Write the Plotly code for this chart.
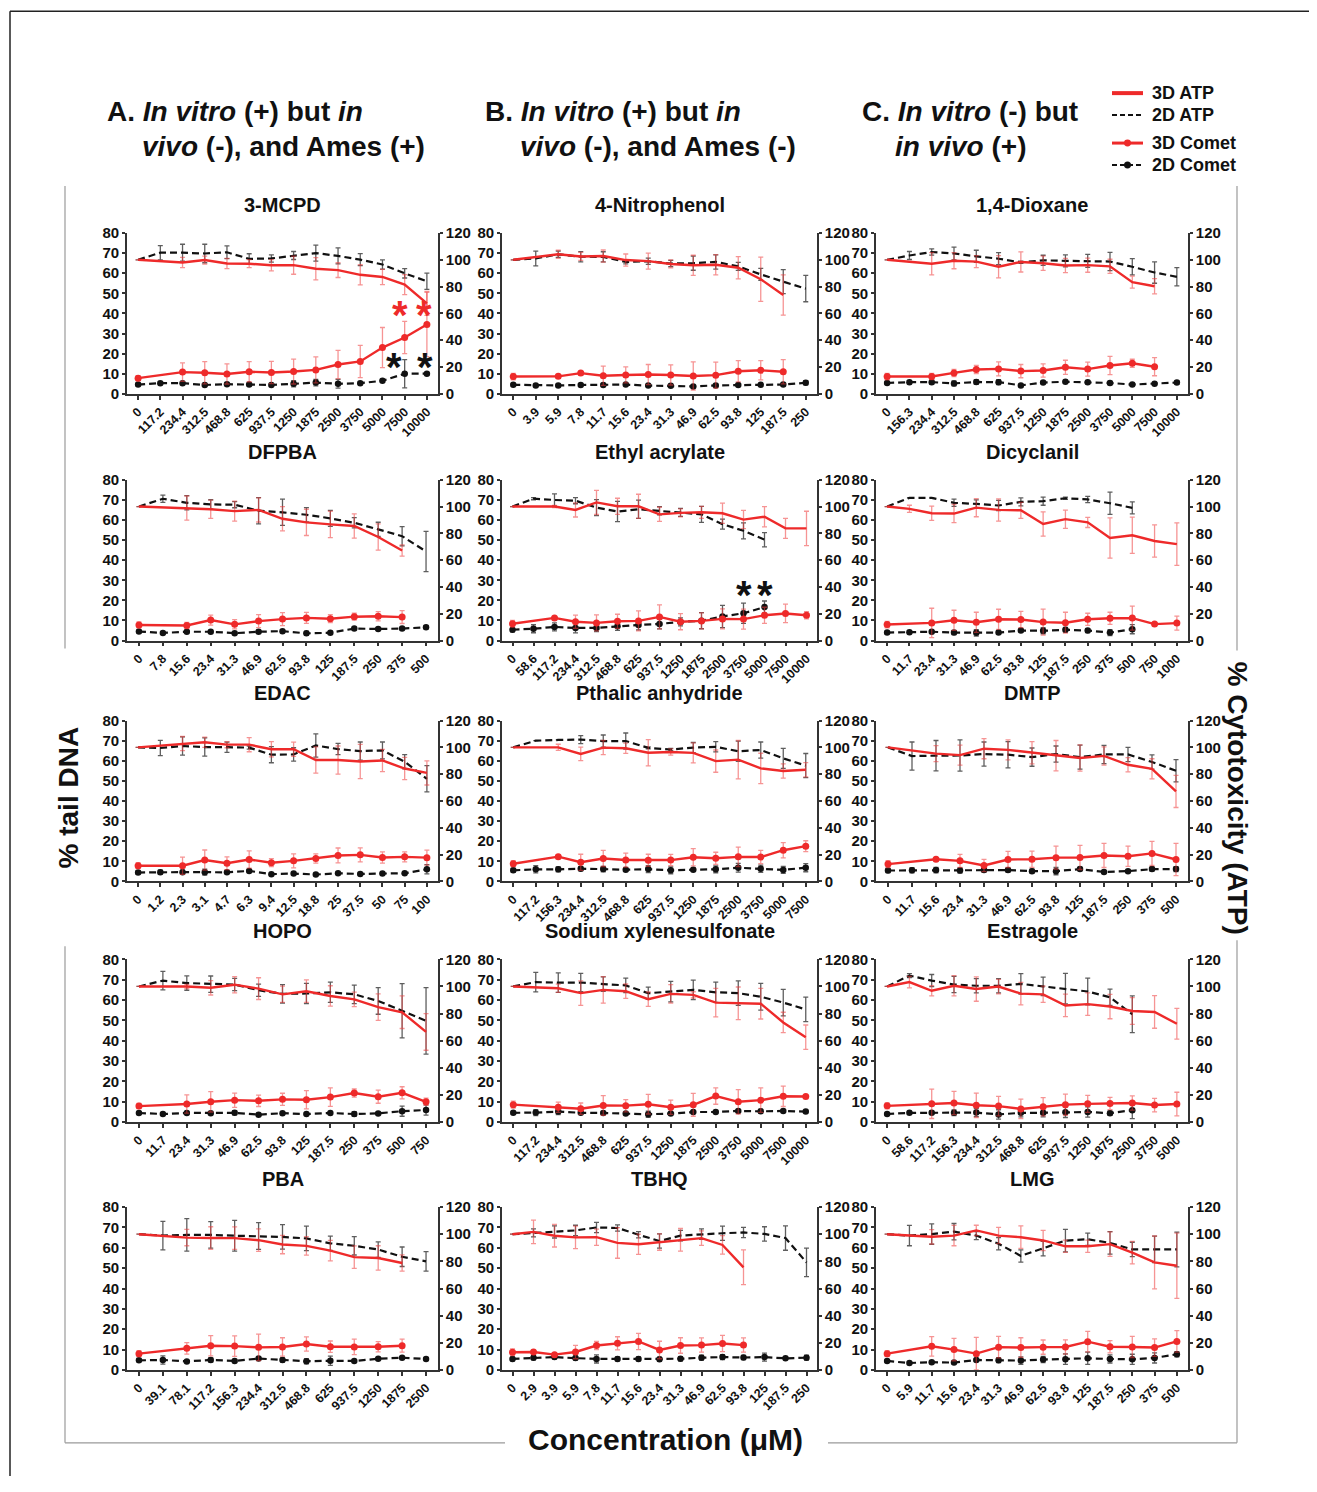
import plotly.graph_objects as go

W, H = 1317, 1492          # size of the reference picture / browser window
PAGE_MARGIN = 8            # default body margin of the html page
FW, FH = W - 2 * PAGE_MARGIN, H - 2 * PAGE_MARGIN
# measured vertical mapping of the photographed page (offset, scale)
V_OFF, V_SCALE = 7.9, 0.9894
FONT = "Liberation Sans, Arial, Helvetica, sans-serif"
RED = "#ee2a2a"
RED_ERR = "rgba(238,60,60,0.55)"
BLK = "#111111"
BLK_ERR = "rgba(40,40,40,0.75)"

# ---------------- data (ATP in %, Comet in % tail DNA) ----------------
# 3-MCPD
mcpd_conc = ["0", "117.2", "234.4", "312.5", "468.8", "625", "937.5", "1250", "1875", "2500", "3750", "5000", "7500", "10000"]
mcpd_atp3d = [100, None, 98.0, 99.8, 97.2, 97.1, 95.9, 96.0, 93.3, 92.3, 88.8, 87.2, 81.5, 67.5]
mcpd_atp3d_err = [0, None, 3.8, 3, 3.8, 3, 4.2, 6.8, 8.3, 5.5, 7.5, 5.7, 7.5, 9]
mcpd_atp2d = [100, 105.3, 105.3, 104.7, 105.6, 100.7, 101.0, 103.2, 105.0, 102.9, 100.1, 96.5, 89.9, 84.0]
mcpd_atp2d_err = [0, 5.3, 6.3, 6.9, 4.8, 3.8, 2.7, 3, 6, 6, 4.5, 3.5, 3.5, 6]
mcpd_com3d = [7.8, None, 10.8, 10.5, 9.9, 11.0, 10.6, 11.1, 11.9, 14.6, 16.1, 23.0, 28.0, 34.5]
mcpd_com3d_err = [1.2, None, 4.6, 5.5, 5, 5, 5.5, 6.2, 6.5, 7, 8, 10, 8, 16]
mcpd_com2d = [4.6, 5.3, 5.3, 4.4, 4.8, 4.6, 4.4, 5.0, 5.6, 5.0, 5.3, 6.5, 10.0, 10.0]
mcpd_com2d_err = [0.6, 0.5, 0.6, 0.5, 0.6, 0.5, 0.5, 1.5, 1.6, 2.2, 0.5, 0.6, 7, 0.5]

# 4-Nitrophenol
np_conc = ["0", "3.9", "5.9", "7.8", "11.7", "15.6", "23.4", "31.3", "46.9", "62.5", "93.8", "125", "187.5", "250"]
np_atp3d = [100, None, 104.1, 102.5, 102.8, 99.8, 99.0, 96.9, 95.9, 96.3, 94.1, 85.5, 73.7, None]
np_atp3d_err = [0, None, 3, 3, 4.5, 4.5, 6, 3, 7.5, 7.5, 8.3, 16.5, 15, None]
np_atp2d = [100, 101.0, 104.1, 102.3, 102.2, 98.4, 98.9, 97.2, 97.5, 98.4, 95.1, 89.1, 83.7, 78.5]
np_atp2d_err = [0, 5.5, 2.3, 3.8, 3.8, 1.5, 2.3, 2.3, 5.3, 5.3, 3, 4.5, 9, 9.8]
np_com3d = [8.6, None, 8.7, 10.3, 9.0, 9.4, 9.6, 9.4, 8.9, 9.3, 11.2, 11.7, 11.0, None]
np_com3d_err = [1.6, None, 1, 0.8, 4.8, 4, 5, 5, 7, 6.5, 5.3, 4.8, 6, None]
np_com2d = [4.5, 4.2, 4.2, 4.4, 4.4, 4.6, 4.1, 4.0, 3.7, 4.2, 4.4, 4.5, 4.6, 5.5]
np_com2d_err = [0.5, 0.4, 0.4, 0.4, 0.5, 0.5, 0.4, 0.4, 0.5, 0.5, 0.5, 0.5, 0.5, 1]

# 1,4-Dioxane
dx_conc = ["0", "156.3", "234.4", "312.5", "468.8", "625", "937.5", "1250", "1875", "2500", "3750", "5000", "7500", "10000"]
dx_atp3d = [100, None, 97.1, 99.3, 98.6, 94.8, 98.4, 97.4, 95.7, 96.0, 95.1, 83.3, 80.3, None]
dx_atp3d_err = [0, None, 8.3, 6, 4.5, 8.3, 7.5, 5.3, 5.3, 5.3, 5.3, 4.5, 5.7, None]
dx_atp2d = [100, 103.2, 105.8, 104.7, 102.6, 100.8, 98.1, 99.6, 99.2, 99.2, 98.7, 94.8, 90.5, 87.3]
dx_atp2d_err = [0, 3, 2.3, 4.8, 4.5, 4.5, 0.8, 3.8, 4.5, 4.8, 6.8, 6, 8, 6.8]
dx_com3d = [8.6, None, 8.6, 10.4, 12.1, 12.4, 11.3, 11.6, 13.2, 12.3, 14.1, 15.2, 13.5, None]
dx_com3d_err = [1.6, None, 1.5, 1.8, 2, 3.5, 3.3, 3.3, 3.5, 3.5, 4.5, 2, 4.5, None]
dx_com2d = [5.4, 5.8, 5.8, 5.2, 5.9, 5.8, 4.2, 5.6, 6.0, 5.8, 5.4, 4.6, 5.0, 5.6]
dx_com2d_err = [0.6, 0.8, 1, 1.2, 1.2, 1.2, 0.4, 0.5, 0.8, 0.8, 0.8, 0.4, 0.4, 0.8]

# DFPBA
df_conc = ["0", "7.8", "15.6", "23.4", "31.3", "46.9", "62.5", "93.8", "125", "187.5", "250", "375", "500"]
df_atp3d = [100, None, 98.9, 98.0, 96.6, 97.5, 90.9, 88.2, 86.7, 85.5, 77.3, 67.2, None]
df_atp3d_err = [0, None, 9, 6.8, 7.5, 9, 9, 9.8, 9.8, 9, 9.8, 4.2, None]
df_atp2d = [100, 105.8, 102.8, 101.6, 101.4, 96.9, 95.7, 93.9, 91.2, 87.9, 83.0, 77.9, 66.5]
df_atp2d_err = [0, 2.7, 5.3, 3.5, 2.3, 9.8, 9.8, 5.3, 6, 3.8, 5.3, 7.2, 15]
df_com3d = [7.8, None, 7.5, 10.2, 8.1, 9.7, 10.7, 11.3, 10.9, 11.9, 12.1, 11.7, None]
df_com3d_err = [1.5, None, 1.5, 2.5, 2.3, 3.2, 3.2, 2.7, 2, 1.7, 2.3, 3.2, None]
df_com2d = [4.5, 3.8, 4.4, 4.4, 3.7, 4.4, 4.7, 3.6, 3.9, 6.0, 5.8, 6.0, 6.6]
df_com2d_err = [0.5, 0.3, 0.5, 0.5, 0.4, 0.6, 0.6, 1, 0.5, 0.5, 0.4, 0.5, 0.8]

# Ethyl acrylate
ea_conc = ["0", "58.6", "117.2", "234.4", "312.5", "468.8", "625", "937.5", "1250", "1875", "2500", "3750", "5000", "7500", "10000"]
ea_atp3d = [100, None, 100, 97.5, 103.1, 100.2, 100.2, 94.2, 95.3, 95.7, 95.0, 90.3, 92.4, 83.7, 83.7]
ea_atp3d_err = [0, None, 0.8, 5.3, 9, 6, 9, 5.3, 3, 4.5, 7.5, 6.8, 7.5, 7.5, 12.8]
ea_atp2d = [100, 105.9, 104.9, 104.4, 99.2, 96.3, 98.0, 96.9, 95.7, 94.2, 86.9, 81.9, 75.3, None, None]
ea_atp2d_err = [0, 0.8, 4.5, 2.3, 6, 7.5, 6.8, 3, 3, 6, 3.8, 6, 5.3, None, None]
ea_com3d = [8.4, None, 11.3, 9.4, 8.8, 9.6, 9.8, 11.8, 9.4, 9.8, 10.8, 10.7, 12.6, 13.5, 12.6]
ea_com3d_err = [1.7, None, 0.8, 3.3, 4, 3.5, 5, 6, 4, 4, 5, 5, 4, 4.6, 1.8]
ea_com2d = [5.4, 5.9, 6.8, 6.3, 6.3, 7.1, 7.8, 8.3, 9.3, 9.9, 12.0, 13.6, 16.7, None, None]
ea_com2d_err = [1, 2, 2, 2.5, 1.8, 2, 2.5, 2.5, 2, 4, 5.5, 5, 3, None, None]

# Dicyclanil
dc_conc = ["0", "11.7", "23.4", "31.3", "46.9", "62.5", "93.8", "125", "187.5", "250", "375", "500", "750", "1000"]
dc_atp3d = [100, 98.3, 95.0, 94.8, 99.2, 97.5, 97.2, 87.0, 90.6, 88.2, 76.5, 78.6, 74.3, 72.0]
dc_atp3d_err = [0, 2.7, 5.3, 6.8, 6.8, 8.3, 6, 9, 6.8, 3.8, 15, 13.5, 12, 15.8]
dc_atp2d = [100, 106.5, 106.5, 102.8, 102.0, 100.8, 103.5, 104.0, 106.2, 105.3, 102.5, 99.0, None, None]
dc_atp2d_err = [0, 0, 0, 2.7, 3, 3.8, 3, 3, 0.8, 2.3, 8.3, 4.5, None, None]
dc_com3d = [8.0, None, 8.8, 10.1, 9.1, 10.6, 10.5, 9.2, 8.9, 10.6, 11.1, 11.2, 8.2, 8.7]
dc_com3d_err = [1.6, None, 7.3, 5, 5, 5, 4, 6.5, 5.2, 3, 3, 6, 0.6, 3.5]
dc_com2d = [4.0, 4.2, 4.4, 4.0, 3.9, 4.0, 5.0, 4.9, 5.4, 5.0, 4.0, 5.7, None, None]
dc_com2d_err = [0.6, 0.3, 0.5, 1, 1.6, 0.5, 0.6, 1.5, 1.2, 1, 1.5, 2.3, None, None]

# EDAC
ed_conc = ["0", "1.2", "2.3", "3.1", "4.7", "6.3", "9.4", "12.5", "18.8", "25", "37.5", "50", "75", "100"]
ed_atp3d = [100, None, 102.8, 103.8, 102.0, 102.0, 98.6, 98.6, 90.5, 90.5, 89.4, 90.2, 84.2, 80.9]
ed_atp3d_err = [0, None, 5.3, 3.8, 2.3, 5.3, 5.7, 5.3, 9.8, 10.5, 12.8, 8.3, 8.3, 9]
ed_atp2d = [100, 99.5, 101.0, 100.2, 100.1, 99.8, 94.5, 94.7, 101.4, 98.7, 97.2, 97.7, 89.3, 76.5]
ed_atp2d_err = [0, 5.7, 6.8, 6.8, 3.8, 1.2, 6, 5, 8.7, 4.2, 6.8, 6.3, 5.3, 9.8]
ed_com3d = [7.8, None, 7.8, 10.6, 9.0, 10.9, 9.3, 10.2, 11.4, 12.9, 13.2, 11.9, 12.2, 11.8]
ed_com3d_err = [1.5, None, 4.3, 5, 3.2, 4.3, 2, 3.5, 2.3, 3.7, 3.5, 2.8, 2.5, 3.7]
ed_com2d = [4.4, 4.6, 4.6, 4.6, 4.5, 5.2, 3.6, 3.9, 3.4, 4.0, 3.7, 3.9, 4.0, 6.0]
ed_com2d_err = [0.8, 1, 1, 1.5, 0.5, 0.5, 0.4, 0.4, 0.3, 0.4, 0.4, 0.4, 0.5, 2.3]

# Pthalic anhydride
pa_conc = ["0", "117.2", "156.3", "234.4", "312.5", "468.8", "625", "937.5", "1250", "1875", "2500", "3750", "5000", "7500"]
pa_atp3d = [100, None, 100, 95.1, 99.8, 99.3, 96.0, 96.5, 95.9, 89.7, 90.8, 84.3, 82.4, 83.3]
pa_atp3d_err = [0, None, 2.3, 5, 5.3, 3.8, 9.8, 2.3, 7.5, 8.3, 14.3, 11.3, 5.3, 5.3]
pa_atp2d = [100, 105.0, 105.5, 105.8, 104.7, 104.7, 99.6, 98.4, 99.8, 100.4, 97.1, 98.0, 91.8, 86.4]
pa_atp2d_err = [0, 0, 0, 3, 4.5, 6, 0.8, 0.8, 3.8, 3.8, 7.5, 6, 7.5, 9]
pa_com3d = [8.8, None, 12.3, 9.5, 11.4, 10.6, 10.5, 10.6, 12.0, 11.5, 12.2, 12.1, 15.5, 17.5]
pa_com3d_err = [1.5, None, 0.7, 4, 4, 3.5, 3, 2.8, 4.3, 3, 4.8, 3.3, 3.8, 2.7]
pa_com2d = [5.5, 6.0, 6.0, 6.3, 6.1, 5.8, 6.1, 5.5, 5.8, 6.0, 6.8, 6.3, 5.7, 6.8]
pa_com2d_err = [1, 1.8, 1.2, 1, 1.3, 0.8, 1.7, 1.7, 0.8, 1.7, 2.2, 1.8, 1.7, 2]

# DMTP
dm_conc = ["0", "11.7", "15.6", "23.4", "31.3", "46.9", "62.5", "93.8", "125", "187.5", "250", "375", "500"]
dm_atp3d = [100, None, 95.3, 94.2, 99.0, 98.1, 96.0, 93.8, 92.1, 93.6, 87.0, 84.0, 67.1]
dm_atp3d_err = [0, None, 6, 7.5, 7.5, 7.5, 8.3, 11.3, 9.8, 6.8, 5.3, 7.5, 12]
dm_atp2d = [100, 93.5, 93.8, 93.9, 95.0, 94.5, 92.7, 95.0, 92.7, 94.7, 94.7, 89.1, 82.5]
dm_atp2d_err = [0, 10.5, 11.3, 11.7, 9, 9.8, 6.8, 6, 9, 6.8, 5.3, 5.3, 8.3]
dm_com3d = [8.6, None, 11.0, 10.2, 7.9, 10.9, 11.0, 11.8, 11.9, 12.9, 12.5, 13.9, 10.9]
dm_com3d_err = [1.7, None, 0.8, 3.2, 3, 4, 4, 5.7, 6, 6, 5, 6, 8]
dm_com2d = [5.4, 5.5, 5.6, 5.4, 5.6, 5.6, 5.1, 5.1, 6.1, 4.7, 5.1, 6.1, 6.1]
dm_com2d_err = [1, 1.3, 1.3, 1.3, 1, 1, 1, 1.8, 0.8, 0.5, 0.6, 1, 1.2]

# HOPO
ho_conc = ["0", "11.7", "23.4", "31.3", "46.9", "62.5", "93.8", "125", "187.5", "250", "375", "500", "750"]
ho_atp3d = [100, None, 100, 99.0, 101.3, 98.4, 94.2, 96.5, 93.0, 90.5, 84.8, 81.0, 66.5]
ho_atp3d_err = [0, None, 1.5, 5.3, 6, 8, 6, 8.3, 7.5, 5.3, 9.8, 12, 13.5]
ho_atp2d = [100, 104.3, 102.5, 101.7, 101.4, 97.2, 94.5, 94.8, 95.7, 94.2, 89.3, 82.1, 74.6]
ho_atp2d_err = [0, 6.8, 5.3, 6, 4.5, 4.5, 6.8, 7.5, 7.5, 6.8, 9.8, 20, 24.5]
ho_com3d = [7.9, None, 8.9, 10.0, 10.8, 10.5, 11.2, 11.0, 12.3, 14.3, 12.5, 14.4, 10.0]
ho_com3d_err = [1.3, None, 4.5, 5, 3.5, 2.8, 3, 4.5, 4.5, 2, 3.2, 3, 1.8]
ho_com2d = [4.5, 4.0, 4.5, 4.4, 4.6, 3.7, 4.4, 4.0, 4.5, 4.0, 4.3, 5.4, 6.0]
ho_com2d_err = [0.6, 0.4, 0.5, 0.5, 1, 0.4, 0.5, 0.5, 0.7, 1.2, 0.5, 2.5, 2.5]

# Sodium xylenesulfonate
sx_conc = ["0", "117.2", "234.4", "312.5", "468.8", "625", "937.5", "1250", "1875", "2500", "3750", "5000", "7500", "10000"]
sx_atp3d = [100, None, 98.7, 95.1, 97.5, 96.5, 90.6, 94.5, 93.8, 88.1, 87.6, 87.3, 73.5, 62.6]
sx_atp3d_err = [0, None, 3, 9, 9.8, 5.3, 5.3, 6.8, 2.3, 10.5, 12, 11.3, 7.5, 9]
sx_atp2d = [100, 103.2, 102.8, 102.9, 101.7, 100.8, 95.0, 96.2, 97.5, 95.7, 95.1, 92.4, 88.1, 83.1]
sx_atp2d_err = [0, 7.2, 7.2, 6.8, 5.3, 5.3, 4.5, 7.5, 7.2, 7.5, 9, 9.8, 9.8, 9]
sx_com3d = [8.6, None, 7.3, 6.6, 8.2, 8.1, 8.8, 7.3, 8.5, 12.8, 10.0, 10.8, 12.7, 12.6]
sx_com3d_err = [1.7, None, 2.5, 2.8, 4.8, 3, 4.8, 3.5, 5.6, 4, 6, 6, 5, 0.5]
sx_com2d = [4.6, 4.7, 5.2, 4.6, 4.5, 4.2, 3.9, 4.2, 5.0, 5.0, 5.5, 5.3, 5.5, 5.2]
sx_com2d_err = [0.6, 1.5, 1.5, 0.5, 0.6, 0.6, 1.5, 0.5, 0.5, 0.4, 0.5, 1, 0.5, 0.5]

# Estragole
es_conc = ["0", "58.6", "117.2", "156.3", "234.4", "312.5", "468.8", "625", "937.5", "1250", "1875", "2500", "3750", "5000"]
es_atp3d = [100, 103.2, 96.8, 100.5, 98.1, 99.9, 94.7, 94.2, 86.0, 87.0, 85.2, 81.9, 81.2, 72.5]
es_atp3d_err = [0, 4.2, 3.8, 7.5, 9, 5.3, 8.3, 6, 8.3, 8.3, 9, 9.8, 12, 11.3]
es_atp2d = [100, 108.0, 104.3, 101.4, 100.5, 100.5, 101.9, 100.1, 98.4, 96.3, 92.0, 79.5, None, None]
es_atp2d_err = [0, 1.5, 4.5, 6, 5.3, 5.3, 7.5, 6.8, 11.3, 9.8, 6, 13.5, None, None]
es_com3d = [8.0, None, 9.0, 9.4, 8.3, 7.9, 6.5, 7.6, 8.6, 9.0, 9.2, 9.4, 8.4, 8.9]
es_com3d_err = [1.5, None, 7.2, 5.7, 6, 4.8, 4.8, 4.5, 5.2, 4.2, 3, 3.5, 3.3, 5.8]
es_com2d = [4.0, 4.6, 4.6, 4.6, 4.7, 3.8, 4.6, 4.6, 4.9, 5.0, 4.4, 5.9, None, None]
es_com2d_err = [0.6, 0.6, 0.8, 1.4, 2, 2.3, 2, 2, 2.6, 2.5, 1, 4.2, None, None]

# PBA
pb_conc = ["0", "39.1", "78.1", "117.2", "156.3", "234.4", "312.5", "468.8", "625", "937.5", "1250", "1875", "2500"]
pb_atp3d = [100, None, 97.5, 97.2, 97.1, 95.6, 92.4, 91.4, 87.9, 83.1, 82.5, 78.8, None]
pb_atp3d_err = [0, None, 6, 8.3, 8.3, 8.3, 6.8, 6.8, 7.5, 8.3, 9, 6, None]
pb_atp2d = [100, 99.0, 99.5, 99.5, 98.9, 98.7, 98.0, 96.9, 93.3, 91.5, 88.7, 83.4, 80.0]
pb_atp2d_err = [0, 10.5, 12, 9.8, 11.3, 9.8, 9, 9, 5.3, 6.8, 5.7, 7.2, 7.2]
pb_com3d = [8.0, None, 10.6, 11.9, 11.7, 11.1, 11.3, 12.7, 11.4, 11.3, 11.4, 11.9, None]
pb_com3d_err = [1.5, None, 2.8, 5, 5, 6.5, 4.5, 3.5, 2.8, 3.8, 2.5, 3.2, None]
pb_com2d = [4.7, 4.9, 4.2, 4.9, 4.4, 5.6, 4.9, 4.3, 4.5, 4.4, 5.5, 6.0, 5.4]
pb_com2d_err = [0.6, 2, 0.4, 1, 0.5, 0.5, 1, 1.3, 2.3, 0.5, 0.5, 0.5, 0.5]

# TBHQ
tb_conc = ["0", "2.9", "3.9", "5.9", "7.8", "11.7", "15.6", "23.4", "31.3", "46.9", "62.5", "93.8", "125", "187.5", "250"]
tb_atp3d = [100, 101.7, 98.9, 97.7, 97.8, 93.6, 92.6, 94.2, 95.9, 97.1, 92.1, 75.6, None, None, None]
tb_atp3d_err = [0, 8.7, 8.3, 8.3, 6, 11.3, 7.5, 6, 8.3, 5.3, 6.8, 12.8, None, None, None]
tb_atp2d = [100, 101.0, 101.7, 102.8, 105.0, 104.6, 99.6, 95.0, 99.0, 100.1, 100.7, 101.3, 100.2, 97.2, 79.2]
tb_atp2d_err = [0, 3, 4.5, 3.8, 3.8, 2.3, 2.3, 5.3, 3.8, 3.8, 5.3, 3.8, 5.3, 9, 10.5]
tb_com3d = [8.7, 8.8, 7.5, 8.8, 12.0, 13.1, 14.0, 9.8, 12.0, 12.2, 13.0, 12.2, None, None, None]
tb_com3d_err = [1.6, 1, 1, 3.3, 2, 3.2, 4, 4.3, 3.8, 3.5, 4, 3.5, None, None, None]
tb_com2d = [5.4, 6.0, 6.3, 5.8, 5.4, 5.4, 5.4, 5.2, 5.5, 6.0, 6.3, 6.1, 6.3, 5.7, 6.0]
tb_com2d_err = [1, 1, 1, 1, 2, 1, 1, 1, 1, 1.2, 1.2, 1, 2, 0.4, 1.2]

# LMG
lm_conc = ["0", "5.9", "11.7", "15.6", "23.4", "31.3", "46.9", "62.5", "93.8", "125", "187.5", "250", "375", "500"]
lm_atp3d = [100, None, 98.1, 99.0, 102.8, 99.0, 97.8, 95.4, 91.1, 91.1, 92.7, 86.4, 79.2, 76.8]
lm_atp3d_err = [0, None, 5.3, 7.5, 3.8, 6, 8.3, 7.5, 4.5, 4.5, 9, 8.3, 19.5, 24]
lm_atp2d = [100, 99.0, 100.1, 101.9, 99.0, 93.0, 84.0, 89.4, 95.3, 96.3, 93.6, 88.8, 88.8, 88.8]
lm_atp2d_err = [0, 7.5, 7.5, 6, 3, 4.5, 4.5, 5.3, 8.3, 4.5, 8.3, 5.3, 9.8, 12.8]
lm_com3d = [8.0, None, 11.6, 10.0, 8.0, 11.2, 11.0, 11.2, 11.3, 13.9, 11.4, 11.3, 11.0, 14.0]
lm_com3d_err = [1.5, None, 4.8, 5.5, 8, 5.3, 4.8, 3.5, 3.5, 5, 3, 5.2, 4.3, 5.3]
lm_com2d = [4.4, 3.4, 3.8, 3.6, 4.9, 4.8, 4.6, 5.1, 5.3, 5.7, 5.4, 5.2, 5.9, 7.7]
lm_com2d_err = [0.6, 0.4, 0.5, 0.5, 0.7, 1.2, 1.8, 1.5, 2.6, 3, 2, 2.5, 2.5, 1.3]

panel_titles = ["3-MCPD", "4-Nitrophenol", "1,4-Dioxane",
                "DFPBA", "Ethyl acrylate", "Dicyclanil",
                "EDAC", "Pthalic anhydride", "DMTP",
                "HOPO", "Sodium xylenesulfonate", "Estragole",
                "PBA", "TBHQ", "LMG"]

# significance markers: (panel index, concentration label, y on %tail DNA axis, colour, x nudge px)
sig_marks = [(0, "7500", 40.5, "red", -5), (0, "10000", 40.5, "red", -3),
             (0, "7500", 15.0, "black", -11), (0, "10000", 15.0, "black", -2),
             (4, "3750", 24.0, "black", 0), (4, "5000", 24.0, "black", 0)]

panels = [
    (mcpd_conc, mcpd_atp3d, mcpd_atp3d_err, mcpd_atp2d, mcpd_atp2d_err, mcpd_com3d, mcpd_com3d_err, mcpd_com2d, mcpd_com2d_err),
    (np_conc, np_atp3d, np_atp3d_err, np_atp2d, np_atp2d_err, np_com3d, np_com3d_err, np_com2d, np_com2d_err),
    (dx_conc, dx_atp3d, dx_atp3d_err, dx_atp2d, dx_atp2d_err, dx_com3d, dx_com3d_err, dx_com2d, dx_com2d_err),
    (df_conc, df_atp3d, df_atp3d_err, df_atp2d, df_atp2d_err, df_com3d, df_com3d_err, df_com2d, df_com2d_err),
    (ea_conc, ea_atp3d, ea_atp3d_err, ea_atp2d, ea_atp2d_err, ea_com3d, ea_com3d_err, ea_com2d, ea_com2d_err),
    (dc_conc, dc_atp3d, dc_atp3d_err, dc_atp2d, dc_atp2d_err, dc_com3d, dc_com3d_err, dc_com2d, dc_com2d_err),
    (ed_conc, ed_atp3d, ed_atp3d_err, ed_atp2d, ed_atp2d_err, ed_com3d, ed_com3d_err, ed_com2d, ed_com2d_err),
    (pa_conc, pa_atp3d, pa_atp3d_err, pa_atp2d, pa_atp2d_err, pa_com3d, pa_com3d_err, pa_com2d, pa_com2d_err),
    (dm_conc, dm_atp3d, dm_atp3d_err, dm_atp2d, dm_atp2d_err, dm_com3d, dm_com3d_err, dm_com2d, dm_com2d_err),
    (ho_conc, ho_atp3d, ho_atp3d_err, ho_atp2d, ho_atp2d_err, ho_com3d, ho_com3d_err, ho_com2d, ho_com2d_err),
    (sx_conc, sx_atp3d, sx_atp3d_err, sx_atp2d, sx_atp2d_err, sx_com3d, sx_com3d_err, sx_com2d, sx_com2d_err),
    (es_conc, es_atp3d, es_atp3d_err, es_atp2d, es_atp2d_err, es_com3d, es_com3d_err, es_com2d, es_com2d_err),
    (pb_conc, pb_atp3d, pb_atp3d_err, pb_atp2d, pb_atp2d_err, pb_com3d, pb_com3d_err, pb_com2d, pb_com2d_err),
    (tb_conc, tb_atp3d, tb_atp3d_err, tb_atp2d, tb_atp2d_err, tb_com3d, tb_com3d_err, tb_com2d, tb_com2d_err),
    (lm_conc, lm_atp3d, lm_atp3d_err, lm_atp2d, lm_atp2d_err, lm_com3d, lm_com3d_err, lm_com2d, lm_com2d_err),
]

# ---------------- layout geometry (target picture pixels) ----------------
COLS = [(127, 438), (502, 817), (876, 1188)]
ROWS = [(232, 393), (479, 640), (720, 881), (959, 1122), (1207, 1370)]


def px(x):
    return (x - PAGE_MARGIN) / FW


def py(y):
    y_page = (y - V_OFF) / V_SCALE
    return 1 - (y_page - PAGE_MARGIN) / FH


fig = go.Figure()
layout_axes = {}
annotations = []
shapes = []

AX_LINE = "#333333"
tick_font = dict(family=FONT, size=15, color="#111", weight="bold")
xtick_font = dict(family=FONT, size=12.5, color="#111", weight="bold")

for i, (conc, a3, a3e, a2, a2e, c3, c3e, c2, c2e) in enumerate(panels):
    r, c = divmod(i, 3)
    k = i + 1
    xname = "x" if k == 1 else f"x{k}"
    yl_n, yr_n = 2 * k - 1, 2 * k
    ylname = "y" if yl_n == 1 else f"y{yl_n}"
    yrname = f"y{yr_n}"
    x0, x1 = COLS[c]
    yt, yb = ROWS[r]
    n = len(conc)

    layout_axes["xaxis" if k == 1 else f"xaxis{k}"] = dict(
        domain=[px(x0), px(x1)], anchor=ylname, type="category",
        range=[-0.5, n - 0.5], tickmode="array", tickvals=conc, ticktext=conc,
        tickangle=-45, ticks="outside", ticklen=4, tickwidth=1.5, tickcolor=AX_LINE,
        showline=True, linecolor=AX_LINE, linewidth=1.6, showgrid=False, zeroline=False,
        tickfont=xtick_font, fixedrange=True,
    )
    layout_axes["yaxis" if yl_n == 1 else f"yaxis{yl_n}"] = dict(
        domain=[py(yb), py(yt)], anchor=xname, range=[0, 80], tickmode="linear",
        tick0=0, dtick=10, ticks="outside", ticklen=3, tickwidth=1.5, tickcolor=AX_LINE,
        showline=True, linecolor=AX_LINE, linewidth=1.6, showgrid=False, zeroline=False,
        tickfont=tick_font, side="left",
    )
    layout_axes[f"yaxis{yr_n}"] = dict(
        domain=[py(yb), py(yt)], anchor=xname, overlaying=ylname, range=[0, 120],
        tickmode="linear", tick0=0, dtick=20, ticks="outside", ticklen=3, tickwidth=1.5,
        tickcolor=AX_LINE, showline=True, linecolor=AX_LINE, linewidth=1.6,
        showgrid=False, zeroline=False, tickfont=tick_font, side="right",
    )

    def err(arr, color):
        return dict(type="data", array=arr, visible=True, color=color, thickness=1.3, width=2.5)

    fig.add_trace(go.Scatter(
        x=conc, y=a2, error_y=err(a2e, BLK_ERR), mode="lines", connectgaps=True,
        line=dict(color=BLK, width=2.2, dash="7px,4px"), xaxis=xname, yaxis=yrname,
        name="2D ATP", showlegend=False, cliponaxis=False))
    fig.add_trace(go.Scatter(
        x=conc, y=c2, error_y=err(c2e, BLK_ERR), mode="lines+markers", connectgaps=True,
        line=dict(color=BLK, width=2.2, dash="7px,4px"), marker=dict(size=6.5, color=BLK),
        xaxis=xname, yaxis=ylname, name="2D Comet", showlegend=False, cliponaxis=False))
    fig.add_trace(go.Scatter(
        x=conc, y=a3, error_y=err(a3e, RED_ERR), mode="lines", connectgaps=True,
        line=dict(color=RED, width=2.4), xaxis=xname, yaxis=yrname,
        name="3D ATP", showlegend=False, cliponaxis=False))
    fig.add_trace(go.Scatter(
        x=conc, y=c3, error_y=err(c3e, RED_ERR), mode="lines+markers", connectgaps=True,
        line=dict(color=RED, width=2.4), marker=dict(size=7, color=RED),
        xaxis=xname, yaxis=ylname, name="3D Comet", showlegend=False, cliponaxis=False))

    annotations.append(dict(
        text=panel_titles[i], x=px((x0 + x1) / 2), y=py(yt - 28), xref="paper", yref="paper",
        xanchor="center", yanchor="middle", showarrow=False,
        font=dict(family=FONT, size=20, color="#111", weight="bold")))

for (pi, cat, yv, col, nudge) in sig_marks:
    k = pi + 1
    xname = "x" if k == 1 else f"x{k}"
    ylname = "y" if 2 * k - 1 == 1 else f"y{2 * k - 1}"
    cat_index = panels[pi][0].index(cat)
    annotations.append(dict(
        text="*", x=cat_index, y=yv, xref=xname, yref=ylname, showarrow=False,
        xanchor="center", yanchor="middle", yshift=-3, xshift=nudge,
        font=dict(family=FONT, size=40, color=RED if col == "red" else "#111", weight="bold")))

# column headers
HFONT = dict(family=FONT, size=28, color="#111", weight="bold")
headers = [
    (105, 110, "A. <i>In vitro</i> (+) but <i>in</i>"),
    (140, 145, "<i>vivo</i> (-), and Ames (+)"),
    (483, 110, "B. <i>In vitro</i> (+) but <i>in</i>"),
    (518, 145, "<i>vivo</i> (-), and Ames (-)"),
    (860, 110, "C. <i>In vitro</i> (-) but"),
    (893, 145, "<i>in vivo</i> (+)"),
]
for hx, hy, txt in headers:
    annotations.append(dict(text=txt, x=px(hx), y=py(hy), xref="paper", yref="paper",
                            xanchor="left", yanchor="middle", showarrow=False, font=HFONT))

# axis titles
annotations.append(dict(text="% tail DNA", x=px(68), y=py(797), xref="paper", yref="paper",
                        textangle=-90, showarrow=False, xanchor="center", yanchor="middle",
                        font=dict(family=FONT, size=28, color="#111", weight="bold")))
annotations.append(dict(text="% Cytotoxicity (ATP)", x=px(1238), y=py(797), xref="paper", yref="paper",
                        textangle=90, showarrow=False, xanchor="center", yanchor="middle",
                        font=dict(family=FONT, size=28, color="#111", weight="bold")))
annotations.append(dict(text="Concentration (μM)", x=px(665), y=py(1440), xref="paper", yref="paper",
                        showarrow=False, xanchor="center", yanchor="middle",
                        font=dict(family=FONT, size=30, color="#111", weight="bold")))

# legend (drawn)
legend_items = [("3D ATP", 92, RED, "solid", False, 4),
                ("2D ATP", 114, BLK, "5px,3px", False, 2),
                ("3D Comet", 142, RED, "solid", True, 3),
                ("2D Comet", 164, BLK, "5px,3px", True, 2)]
for label, ly, colr, dsh, mk, lw in legend_items:
    shapes.append(dict(type="line", xref="paper", yref="paper", x0=px(1112), x1=px(1143),
                       y0=py(ly), y1=py(ly), line=dict(color=colr, width=lw, dash=dsh)))
    if mk:
        shapes.append(dict(type="circle", xref="paper", yref="paper",
                           x0=px(1124), x1=px(1131), y0=py(ly + 3.5), y1=py(ly - 3.5),
                           fillcolor=colr, line=dict(color=colr, width=0)))
    annotations.append(dict(text=label, x=px(1150), y=py(ly), xref="paper", yref="paper",
                            xanchor="left", yanchor="middle", showarrow=False,
                            font=dict(family=FONT, size=18, color="#111", weight="bold")))

# bracket lines and frame
GR = "#9a9a9a"
for (xa, ya, xb, yb) in [(65, 185, 65, 648), (65, 946, 65, 1443), (65, 1443, 505, 1443),
                         (828, 1443, 1237, 1443), (1237, 185, 1237, 650), (1237, 940, 1237, 1443)]:
    shapes.append(dict(type="line", xref="paper", yref="paper", x0=px(xa), y0=py(ya),
                       x1=px(xb), y1=py(yb), line=dict(color=GR, width=1.2)))
shapes.append(dict(type="line", xref="paper", yref="paper", x0=px(10), y0=py(10),
                   x1=1, y1=py(10), line=dict(color="#222", width=1.5)))
shapes.append(dict(type="line", xref="paper", yref="paper", x0=px(10), y0=py(10),
                   x1=px(10), y1=0, line=dict(color="#222", width=1.5)))

fig.update_layout(
    width=FW, height=FH, margin=dict(l=0, r=0, t=0, b=0),
    paper_bgcolor="white", plot_bgcolor="white", showlegend=False,
    annotations=annotations, shapes=shapes, font=dict(family=FONT),
    **layout_axes,
)

fig.write_html("out.html", config={"displayModeBar": False})
